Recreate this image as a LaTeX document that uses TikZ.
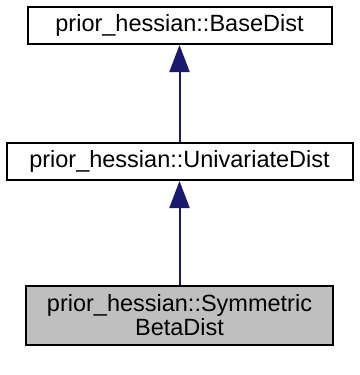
\documentclass[tikz,border=0pt]{standalone}
\usepackage{fontspec}
\setmainfont{Liberation Sans}
\usepackage{tikz}
\usetikzlibrary{arrows.meta,positioning}
\definecolor{edgeblue}{HTML}{191970}
\definecolor{nodegray}{HTML}{BFBFBF}

\begin{document}
\begin{tikzpicture}[x=1pt,y=-1pt,>={Triangle[length=27pt,width=20pt]},
    classbox/.style={draw=black,line width=2pt,fill=white,inner sep=0pt,
      minimum height=37pt,align=center,font=\fontsize{23.5}{24}\selectfont},
    inherit/.style={edgeblue,line width=2pt,->}]
  \useasboundingbox (0,0) rectangle (359,375);
  % classes, base at the top
  \node[classbox,minimum width=304pt] (base) at (179.5,25.5) {prior\_hessian::BaseDist};
  \node[classbox,minimum width=346pt] (univ) at (179.5,161.5) {prior\_hessian::UnivariateDist};
  \node[classbox,fill=nodegray,minimum width=307pt,minimum height=59pt] (symm)
    at (179.5,315.5) {prior\_hessian::Symmetric\\BetaDist};
  % inheritance edges
  \draw[inherit] (univ) -- (base);
  \draw[inherit] (symm) -- (univ);
\end{tikzpicture}
\end{document}
